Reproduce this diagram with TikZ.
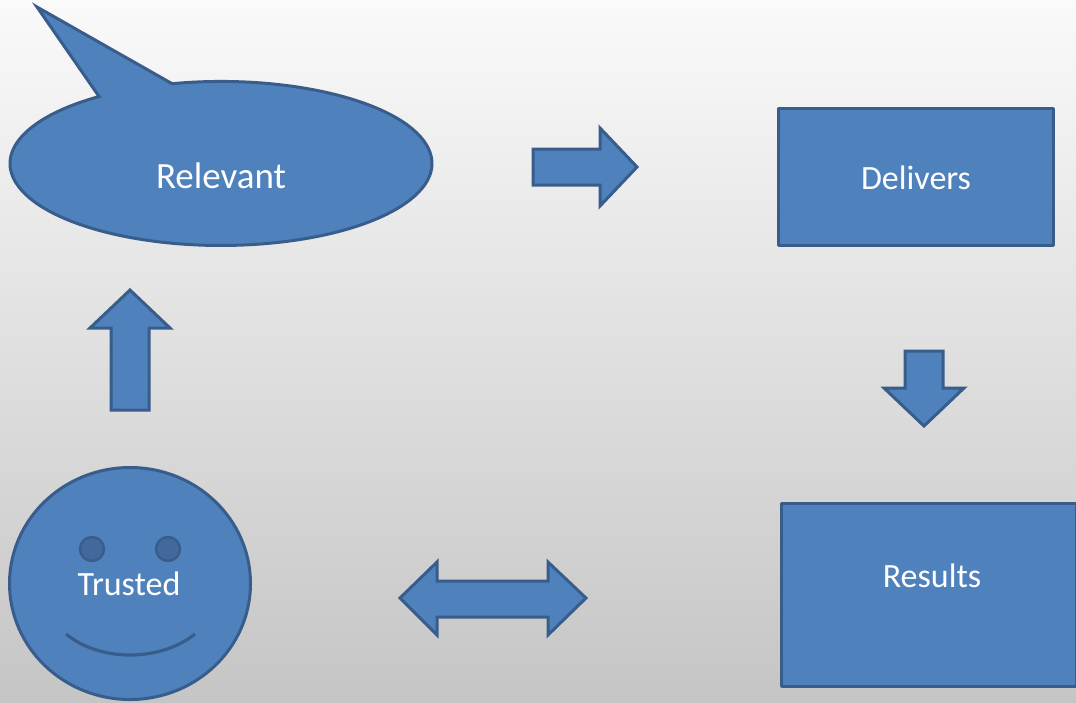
\documentclass[tikz,border=0pt]{standalone}
\usepackage{fontspec}
\setmainfont{Carlito}
\definecolor{offblue}{HTML}{4F81BD}
\definecolor{offline}{HTML}{385D8A}
\definecolor{eyeblue}{HTML}{41699C}
\definecolor{bgtop}{HTML}{FAFAFA}
\definecolor{bgbot}{HTML}{C5C5C5}
\tikzset{
  shapefill/.style={fill=offblue, draw=offline, line width=3pt, line join=miter},
  boxshape/.style={shapefill, rectangle, inner sep=0pt, line join=round},
  lbl/.style={text=white, inner sep=0pt, font=\fontsize{34}{40}\selectfont},
  biglbl/.style={lbl, font=\fontsize{37}{44}\selectfont},
}
\begin{document}
\begin{tikzpicture}[x=1pt,y=-1pt]
\useasboundingbox (0,0) rectangle (1076,702);
\shade[top color=bgtop, bottom color=bgbot] (0,0) rectangle (1076,702);

% callout (Relevant)
\draw[shapefill] (37,7) -- (172.1,83.7)
  arc[start angle=-103.4, end angle=234.7, x radius=211, y radius=82]
  -- cycle;
\node[biglbl, anchor=base] (relevant) at (221,188) {Relevant};

% right block arrow
\draw[shapefill] (533,149) -- (600,149) -- (600,128) -- (637,167) -- (600,206)
  -- (600,185) -- (533,185) -- cycle;

% Delivers box
\node[boxshape, minimum width=275pt, minimum height=137pt] (delivers) at (916,177) {};
\node[lbl, anchor=base] (tdel) at (916,189) {Delivers};

% down block arrow
\draw[shapefill] (905,351) -- (943,351) -- (943,388) -- (964,388) -- (924,426)
  -- (884,388) -- (905,388) -- cycle;

% Results box
\node[boxshape, minimum width=295pt, minimum height=183pt] (results) at (929,595) {};
\node[lbl, anchor=base] (tres) at (932,587) {Results};

% up block arrow
\draw[shapefill] (130,290) -- (170,328) -- (149,328) -- (149,410) -- (111,410)
  -- (111,328) -- (90,328) -- cycle;

% double block arrow
\draw[shapefill] (400,598) -- (437,562) -- (437,581) -- (548,581) -- (548,562)
  -- (586,598) -- (548,635) -- (548,617) -- (437,617) -- (437,635) -- cycle;

% smiley
\draw[shapefill] (130,583.5) ellipse[x radius=120.5, y radius=116];
\draw[fill=eyeblue, draw=offline, line width=2.4pt] (92,549) circle[radius=12];
\draw[fill=eyeblue, draw=offline, line width=2.4pt] (168,549) circle[radius=12];
\draw[draw=offline, line width=3.2pt] (66,634) .. controls (100,662) and (160,662) .. (195,634);
\node[lbl, anchor=base] (trusted) at (129,595) {Trusted};
\end{tikzpicture}
\end{document}
